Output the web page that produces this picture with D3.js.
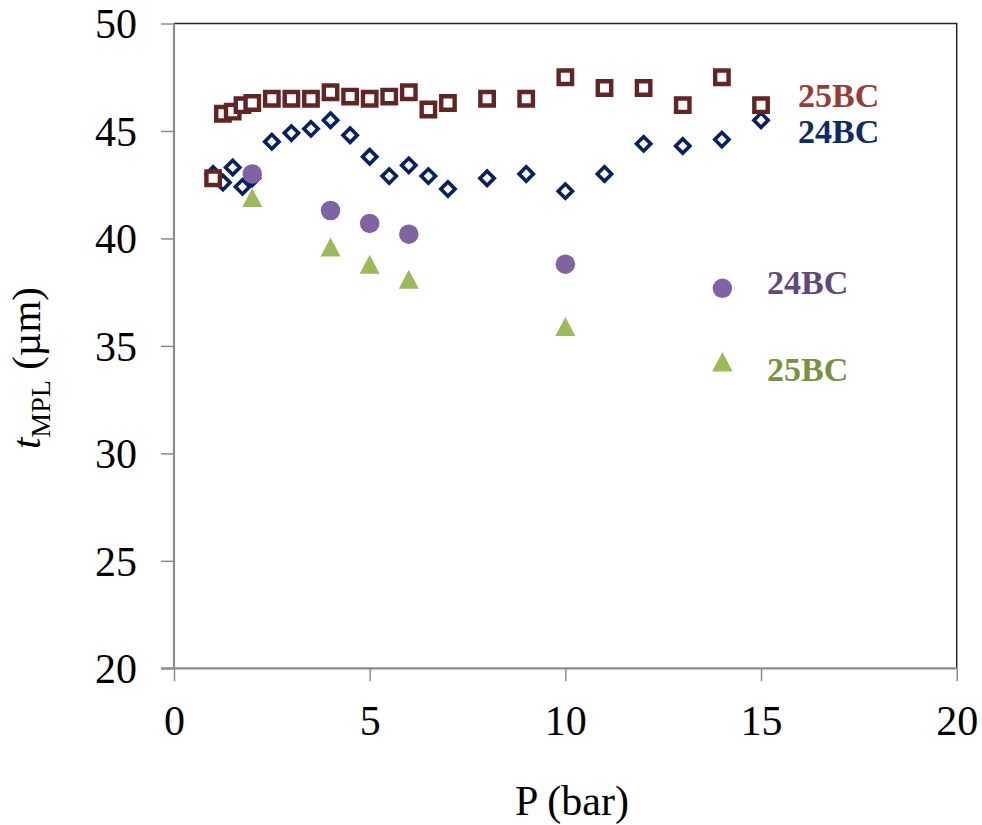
<!DOCTYPE html>
<html>
<head>
<meta charset="utf-8">
<script src="https://cdn.jsdelivr.net/npm/d3@7"></script>
<style>
  html, body { margin: 0; padding: 0; background: #fff; }
  svg { display: block; }
  text { font-family: "Liberation Serif", "Times New Roman", serif; }
</style>
</head>
<body>
<svg id="chart" width="982" height="825"></svg>
<script>
// ---- Data ----
const openP = [1, 1.25, 1.5, 1.75, 2, 2.5, 3, 3.5, 4, 4.5, 5, 5.5, 6, 6.5, 7, 8, 9, 10, 11, 12, 13, 14, 15];
const open25BC = [42.8, 45.8, 45.9, 46.2, 46.3, 46.5, 46.5, 46.5, 46.8, 46.6, 46.5, 46.6, 46.8, 46.0, 46.3, 46.5, 46.5, 47.5, 47.0, 47.0, 46.2, 47.5, 46.2];
const open24BC = [43.0, 42.6, 43.3, 42.4, 42.8, 44.5, 44.9, 45.1, 45.5, 44.8, 43.8, 42.9, 43.4, 42.9, 42.3, 42.8, 43.0, 42.2, 43.0, 44.4, 44.3, 44.6, 45.5];
const filledP = [2, 4, 5, 6, 10];
const filled24BC = [43.0, 41.3, 40.7, 40.2, 38.8];
const filled25BC = [41.9, 39.6, 38.8, 38.1, 35.9];
const xTicks = [0, 5, 10, 15, 20];
const yTicks = [20, 25, 30, 35, 40, 45, 50];

(function () {
// ---- Layout ----
const svg = d3.select("#chart");
const pL = 174, pR = 956.7, pT = 23.5, pB = 668.3;
const x = d3.scaleLinear().domain([0, 20]).range([pL, pR]);
const y = d3.scaleLinear().domain([20, 50]).range([pB, pT]);
const axisGray = "#8c8c8c";

// frame top/right
svg.append("path")
  .attr("d", `M${pL},${pT}H${pR}V${pB}`)
  .attr("fill", "none").attr("stroke", "#262626").attr("stroke-width", 1.5);

// axes
const xAxis = svg.append("g").attr("transform", `translate(0,${pB})`)
  .call(d3.axisBottom(x).tickValues(xTicks).tickSize(13).tickPadding(23).tickFormat(d3.format("d")));
const yAxis = svg.append("g").attr("transform", `translate(${pL},0)`)
  .call(d3.axisLeft(y).tickValues(yTicks).tickSize(13).tickPadding(24).tickFormat(d3.format("d")));
[xAxis, yAxis].forEach(g => {
  g.select(".domain").attr("stroke", axisGray).attr("stroke-width", 2.2);
  g.selectAll(".tick line").attr("stroke", axisGray).attr("stroke-width", 1.5);
  g.selectAll(".tick text").attr("fill", "#000").style("font-size", "42px")
    .style("font-family", "'Liberation Serif', 'Times New Roman', serif");
});
xAxis.select(".domain").attr("d", `M${pL - 13},0H${pR}`);
yAxis.select(".domain").attr("d", `M0,${pB}V${pT}`);
yAxis.selectAll(".tick text").attr("dy", "0.34em");
xAxis.selectAll(".tick text").attr("dy", "0.72em");

// axis titles
svg.append("text").attr("x", 572).attr("y", 815).attr("text-anchor", "middle")
  .style("font-size", "42px").text("P (bar)");
const yt = svg.append("text").attr("transform", "translate(40,368) rotate(-90)")
  .attr("text-anchor", "middle").style("font-size", "41px");
yt.append("tspan").style("font-style", "italic").text("t");
yt.append("tspan").attr("dy", 10).style("font-size", "28px").text("MPL");
yt.append("tspan").attr("dy", -10).text(" (\u00b5m)");

// symbol types
const triType = {
  draw(ctx, size) {
    const w = Math.sqrt(size);
    const h = w * 0.95;
    ctx.moveTo(0, -h / 2);
    ctx.lineTo(w / 2, h / 2);
    ctx.lineTo(-w / 2, h / 2);
    ctx.closePath();
  }
};

// open diamonds (24BC)
svg.append("g").selectAll("path").data(openP.map((p, i) => [p, open24BC[i]])).join("path")
  .attr("transform", d => `translate(${x(d[0])},${y(d[1])}) rotate(45)`)
  .attr("d", d3.symbol(d3.symbolSquare, 102)())
  .attr("fill", "#fff").attr("stroke", "#062063").attr("stroke-width", 3.6);

// open squares (25BC)
svg.append("g").selectAll("path").data(openP.map((p, i) => [p, open25BC[i]])).join("path")
  .attr("transform", d => `translate(${x(d[0])},${y(d[1])})`)
  .attr("d", d3.symbol(d3.symbolSquare, 180)())
  .attr("fill", "#fff").attr("stroke", "#632523").attr("stroke-width", 4.4);

// filled circles (24BC)
svg.append("g").selectAll("path").data(filledP.map((p, i) => [p, filled24BC[i]])).join("path")
  .attr("transform", d => `translate(${x(d[0])},${y(d[1])})`)
  .attr("d", d3.symbol(d3.symbolCircle, 299)())
  .attr("fill", "#8064A2");

// filled triangles (25BC)
svg.append("g").selectAll("path").data(filledP.map((p, i) => [p, filled25BC[i]])).join("path")
  .attr("transform", d => `translate(${x(d[0])},${y(d[1])})`)
  .attr("d", d3.symbol(triType, 400)())
  .attr("fill", "#9BBB59");

// legend / labels
svg.append("text").attr("x", 798).attr("y", 107).style("font-size", "34px").style("font-weight", "bold")
  .attr("fill", "#9B3B37").text("25BC");
svg.append("text").attr("x", 798).attr("y", 143).style("font-size", "34px").style("font-weight", "bold")
  .attr("fill", "#0E2A6A").text("24BC");
svg.append("path").attr("transform", "translate(722.4,288.3)")
  .attr("d", d3.symbol(d3.symbolCircle, 299)()).attr("fill", "#8064A2");
svg.append("text").attr("x", 767).attr("y", 293.5).style("font-size", "34px").style("font-weight", "bold")
  .attr("fill", "#5F497A").text("24BC");
svg.append("path").attr("transform", "translate(722.4,361.7)")
  .attr("d", d3.symbol(triType, 420)()).attr("fill", "#9BBB59");
svg.append("text").attr("x", 767).attr("y", 380.5).style("font-size", "34px").style("font-weight", "bold")
  .attr("fill", "#77933C").text("25BC");
})();
</script>
</body>
</html>
